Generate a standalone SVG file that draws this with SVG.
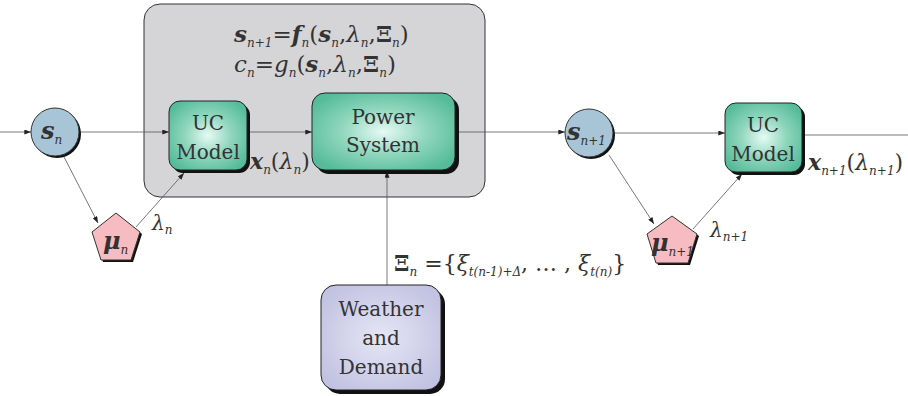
<svg xmlns="http://www.w3.org/2000/svg" width="908" height="396" viewBox="0 0 908 396">
<defs>
<radialGradient id="gTeal" cx="0.5" cy="0.5" r="0.6">
<stop offset="0" stop-color="#e6faf4"/><stop offset="0.5" stop-color="#8fd6bd"/><stop offset="1" stop-color="#55bb99"/>
</radialGradient>
<radialGradient id="gPurple" cx="0.5" cy="0.5" r="0.6">
<stop offset="0" stop-color="#e6e6f6"/><stop offset="1" stop-color="#c2c2e2"/>
</radialGradient>
<marker id="arr" viewBox="0 0 8 6" refX="8" refY="3" markerWidth="7" markerHeight="5" orient="auto" markerUnits="userSpaceOnUse">
<path d="M0,0 L8,3 L0,6 z" fill="#222"/>
</marker>
<style>
.ln{stroke:#555;stroke-width:0.8;fill:none}
.box{stroke:#222;stroke-width:1}
.sh{fill:#111}
text{font-family:"DejaVu Serif","Liberation Serif","Times New Roman",serif;fill:#333}
.bi{font-weight:bold;font-style:italic}
.it{font-style:italic}
.sub{font-style:italic;font-size:12px}
</style>
</defs>

<g id="container">
<rect x="144" y="4" width="341" height="193" rx="16" fill="#d5d5d7" stroke="#333" stroke-width="1"/>
<text x="234" y="42" font-size="23"><tspan class="bi">s</tspan><tspan class="sub" dy="5">n+1</tspan><tspan dy="-5">=</tspan><tspan class="bi">f</tspan><tspan class="sub" dy="5">n</tspan><tspan dy="-5">(</tspan><tspan class="bi">s</tspan><tspan class="sub" dy="5">n</tspan><tspan dy="-5">,</tspan><tspan class="it">λ</tspan><tspan class="sub" dy="5">n</tspan><tspan dy="-5">,</tspan><tspan font-weight="bold">Ξ</tspan><tspan class="sub" dy="5">n</tspan><tspan dy="-5">)</tspan></text>
<text x="234" y="72" font-size="23"><tspan class="it">c</tspan><tspan class="sub" dy="5">n</tspan><tspan dy="-5">=</tspan><tspan class="it">g</tspan><tspan class="sub" dy="5">n</tspan><tspan dy="-5">(</tspan><tspan class="bi">s</tspan><tspan class="sub" dy="5">n</tspan><tspan dy="-5">,</tspan><tspan class="it">λ</tspan><tspan class="sub" dy="5">n</tspan><tspan dy="-5">,</tspan><tspan font-weight="bold">Ξ</tspan><tspan class="sub" dy="5">n</tspan><tspan dy="-5">)</tspan></text>
</g>

<g id="connectors">
<line class="ln" x1="0" y1="132" x2="31" y2="132" marker-end="url(#arr)"/>
<line class="ln" x1="79" y1="132" x2="169" y2="132" marker-end="url(#arr)"/>
<line class="ln" x1="247" y1="132" x2="312" y2="132" marker-end="url(#arr)"/>
<line class="ln" x1="455" y1="132" x2="565" y2="132" marker-end="url(#arr)"/>
<line class="ln" x1="613" y1="133" x2="725" y2="133" marker-end="url(#arr)"/>
<line class="ln" x1="802" y1="135" x2="908" y2="135"/>
<line class="ln" x1="63" y1="155" x2="98" y2="223" marker-end="url(#arr)"/>
<line class="ln" x1="136" y1="227" x2="184" y2="173" marker-end="url(#arr)"/>
<line class="ln" x1="387" y1="285" x2="387" y2="171" marker-end="url(#arr)"/>
<line class="ln" x1="609" y1="155" x2="654" y2="224" marker-end="url(#arr)"/>
<line class="ln" x1="693" y1="229" x2="742" y2="174" marker-end="url(#arr)"/>
</g>

<g id="sn">
<circle cx="57" cy="134" r="24" class="sh"/>
<circle cx="55" cy="132" r="24" fill="#a7c5d7" stroke="#333" stroke-width="1"/>
<text x="41" y="139" font-size="24"><tspan class="bi">s</tspan><tspan class="sub" dy="5">n</tspan></text>
</g>

<g id="mun">
<polygon points="118,215 142,234 133,262 103,262 94,234" class="sh"/>
<polygon points="116,213 140,232 131,260 101,260 92,232" fill="#f6bcc1" stroke="#333" stroke-width="1"/>
<text x="103" y="249" font-size="24"><tspan class="bi">μ</tspan><tspan class="sub" dy="5">n</tspan></text>
<text x="152" y="230" font-size="20"><tspan class="it">λ</tspan><tspan class="sub" dy="4">n</tspan></text>
</g>

<g id="uc1">
<rect x="172" y="104" width="78" height="69" rx="11" class="sh"/>
<rect x="169" y="101" width="78" height="69" rx="11" fill="url(#gTeal)" class="box"/>
<text x="208" y="130" font-size="20" text-anchor="middle">UC</text>
<text x="208" y="159" font-size="20" text-anchor="middle">Model</text>
<text x="250" y="169" font-size="22"><tspan class="bi">x</tspan><tspan class="sub" dy="5">n</tspan><tspan dy="-5">(</tspan><tspan class="it">λ</tspan><tspan class="sub" dy="5">n</tspan><tspan dy="-5">)</tspan></text>
</g>

<g id="power">
<rect x="316" y="97" width="143" height="77" rx="13" class="sh"/>
<rect x="312" y="93" width="143" height="77" rx="13" fill="url(#gTeal)" class="box"/>
<text x="383" y="124" font-size="20" text-anchor="middle">Power</text>
<text x="383" y="152" font-size="20" text-anchor="middle">System</text>
</g>

<g id="weather">
<rect x="325" y="289" width="120" height="105" rx="15" class="sh"/>
<rect x="321" y="285" width="120" height="105" rx="15" fill="url(#gPurple)" class="box"/>
<text x="381" y="316" font-size="20" text-anchor="middle">Weather</text>
<text x="381" y="345" font-size="20" text-anchor="middle">and</text>
<text x="381" y="374" font-size="20" text-anchor="middle">Demand</text>
<text x="394" y="271" font-size="22"><tspan font-weight="bold">Ξ</tspan><tspan class="sub" dy="5">n</tspan><tspan dy="-5"> ={</tspan><tspan class="it">ξ</tspan><tspan class="sub" dy="5">t(n-1)+Δ</tspan><tspan dy="-5">,  … ,  </tspan><tspan class="it">ξ</tspan><tspan class="sub" dy="5">t(n)</tspan><tspan dy="-5">}</tspan></text>
</g>

<g id="sn1">
<circle cx="591" cy="135" r="24" class="sh"/>
<circle cx="589" cy="133" r="24" fill="#a7c5d7" stroke="#333" stroke-width="1"/>
<text x="567" y="140" font-size="24"><tspan class="bi">s</tspan><tspan class="sub" dy="5">n+1</tspan></text>
</g>

<g id="mun1">
<polygon points="674,218 699,236 690,265 658,265 649,236" class="sh"/>
<polygon points="672,216 697,234 688,263 656,263 647,234" fill="#f6bcc1" stroke="#333" stroke-width="1"/>
<text x="651" y="251" font-size="24"><tspan class="bi">μ</tspan><tspan class="sub" dy="5">n+1</tspan></text>
<text x="710" y="237" font-size="20"><tspan class="it">λ</tspan><tspan class="sub" dy="4">n+1</tspan></text>
</g>

<g id="uc2">
<rect x="728" y="106" width="77" height="69" rx="11" class="sh"/>
<rect x="725" y="103" width="77" height="69" rx="11" fill="url(#gTeal)" class="box"/>
<text x="763" y="132" font-size="20" text-anchor="middle">UC</text>
<text x="763" y="161" font-size="20" text-anchor="middle">Model</text>
<text x="808" y="170" font-size="22"><tspan class="bi">x</tspan><tspan class="sub" dy="5">n+1</tspan><tspan dy="-5">(</tspan><tspan class="it">λ</tspan><tspan class="sub" dy="5">n+1</tspan><tspan dy="-5">)</tspan></text>
</g>
</svg>
